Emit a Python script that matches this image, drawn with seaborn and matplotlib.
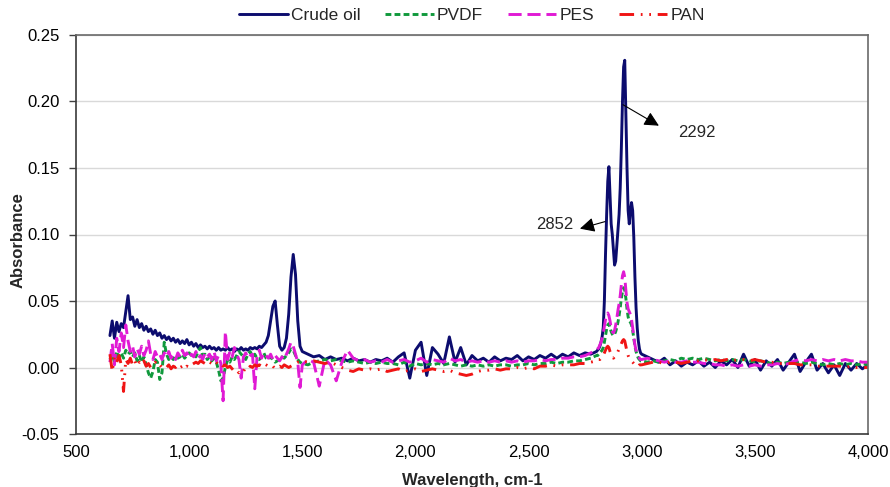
import numpy as np
import pandas as pd
import matplotlib
matplotlib.use("Agg")
import matplotlib.pyplot as plt
from matplotlib.lines import Line2D
from matplotlib.ticker import FuncFormatter, MultipleLocator
import seaborn as sns

# Wavenumber sampling: fine steps around the C-H stretch band, coarser elsewhere
wavenumber = np.concatenate([
    np.arange(650, 1501, 10),
    np.arange(1525, 2801, 25),
    np.arange(2805, 3001, 5),
    np.arange(3025, 4001, 25),
])

samples = ["Crude oil", "PVDF", "PES", "PAN"]

crude_oil = [
    # 650 - 1500
    0.024, 0.035, 0.022, 0.034, 0.027, 0.033, 0.030, 0.042, 0.054, 0.036,
    0.038, 0.031, 0.036, 0.030, 0.033, 0.028, 0.031, 0.027, 0.029, 0.025,
    0.028, 0.024, 0.026, 0.022, 0.024, 0.021, 0.023, 0.020, 0.022, 0.019,
    0.021, 0.018, 0.020, 0.018, 0.021, 0.017, 0.019, 0.016, 0.018, 0.015,
    0.017, 0.015, 0.016, 0.014, 0.016, 0.014, 0.015, 0.013, 0.015, 0.013,
    0.014, 0.013, 0.015, 0.013, 0.014, 0.012, 0.014, 0.013, 0.015, 0.013,
    0.014, 0.013, 0.015, 0.014, 0.015, 0.014, 0.016, 0.015, 0.017, 0.019,
    0.024, 0.035, 0.046, 0.050, 0.032, 0.016, 0.013, 0.015, 0.022, 0.040,
    0.068, 0.085, 0.070, 0.035, 0.016, 0.012,
    # 1525 - 2800
    0.010, 0.008, 0.009, 0.006, 0.008, 0.006, 0.007, 0.005, 0.007, 0.005,
    0.006, 0.004, 0.006, 0.005, 0.007, 0.004, 0.008, 0.011, -0.008, 0.013,
    0.019, -0.006, 0.015, 0.010, 0.003, 0.023, 0.004, 0.015, 0.002, 0.009,
    0.005, 0.007, 0.004, 0.008, 0.005, 0.007, 0.006, 0.009, 0.005, 0.008,
    0.006, 0.009, 0.007, 0.010, 0.007, 0.010, 0.008, 0.011, 0.009, 0.011,
    0.010, 0.012,
    # 2805 - 3000
    0.013, 0.014, 0.016, 0.019, 0.023, 0.030, 0.050, 0.085, 0.115, 0.140,
    0.151, 0.130, 0.108, 0.100, 0.088, 0.077, 0.080, 0.092, 0.104, 0.115,
    0.135, 0.165, 0.200, 0.226, 0.231, 0.190, 0.150, 0.118, 0.108, 0.118,
    0.124, 0.118, 0.098, 0.068, 0.045, 0.030, 0.020, 0.014, 0.011, 0.010,
    # 3025 - 4000
    0.008, 0.006, 0.004, 0.007, 0.002, 0.005, 0.001, 0.004, 0.002, 0.005,
    0.001, 0.004, 0.000, 0.005, 0.002, 0.006, 0.000, 0.010, 0.001, 0.006,
    -0.002, 0.005, 0.001, 0.006, -0.002, 0.004, 0.010, -0.003, 0.004, 0.010,
    -0.002, 0.003, -0.004, 0.002, -0.006, 0.003, -0.002, 0.003, -0.001, 0.002,
]

pvdf = [
    # 650 - 1500
    0.006, 0.010, 0.004, 0.012, 0.008, 0.011, 0.007, 0.013, 0.010, 0.012,
    0.008, 0.011, 0.005, 0.009, 0.004, 0.008, 0.002, -0.004, -0.008, -0.003,
    0.006, 0.004, -0.009, -0.004, 0.019, 0.010, 0.006, 0.008, 0.006, 0.009,
    0.007, 0.008, 0.010, 0.007, 0.009, 0.011, 0.009, 0.010, 0.008, 0.012,
    0.015, 0.009, 0.010, 0.006, 0.008, 0.005, 0.007, 0.004, -0.002, -0.010,
    -0.008, 0.000, 0.006, 0.004, 0.008, 0.006, 0.009, 0.012, 0.010, 0.008,
    0.006, 0.010, 0.012, 0.008, 0.010, 0.007, 0.006, 0.008, 0.011, 0.007,
    0.006, 0.008, 0.006, 0.004, 0.005, 0.006, 0.008, 0.007, 0.009, 0.011,
    0.014, 0.013, 0.009, 0.006, 0.004, 0.003,
    # 1525 - 2800
    0.002, 0.004, 0.005, 0.006, 0.005, 0.006, 0.005, 0.004, 0.005, 0.004,
    0.003, 0.004, 0.003, 0.004, 0.003, 0.003, 0.002, 0.004, 0.001, 0.003,
    0.002, 0.003, 0.002, 0.003, 0.002, 0.003, 0.002, 0.001, 0.002, 0.001,
    0.002, 0.001, 0.002, 0.001, 0.002, 0.002, 0.001, 0.002, 0.002, 0.003,
    0.002, 0.003, 0.003, 0.004, 0.003, 0.004, 0.004, 0.005, 0.005, 0.006,
    0.007, 0.009,
    # 2805 - 3000
    0.009, 0.010, 0.011, 0.012, 0.013, 0.015, 0.019, 0.024, 0.029, 0.032,
    0.033, 0.030, 0.027, 0.025, 0.024, 0.025, 0.027, 0.030, 0.034, 0.039,
    0.045, 0.052, 0.057, 0.060, 0.058, 0.052, 0.044, 0.038, 0.035, 0.034,
    0.032, 0.028, 0.022, 0.016, 0.012, 0.009, 0.007, 0.006, 0.005, 0.005,
    # 3025 - 4000
    0.004, 0.005, 0.004, 0.005, 0.006, 0.005, 0.007, 0.006, 0.007, 0.006,
    0.007, 0.006, 0.005, 0.006, 0.005, 0.006, 0.005, 0.006, 0.005, 0.004,
    0.005, 0.004, 0.003, 0.004, 0.003, 0.004, 0.003, 0.004, 0.003, 0.004,
    0.003, 0.002, 0.003, 0.002, 0.003, 0.002, 0.003, 0.002, 0.003, 0.002,
]

pes = [
    # 650 - 1500
    0.004, 0.018, 0.002, 0.022, 0.012, 0.026, 0.015, 0.032, 0.020, 0.012,
    0.016, 0.008, 0.014, 0.010, 0.016, 0.009, 0.013, 0.020, 0.010, 0.006,
    0.012, 0.008, 0.010, 0.006, 0.011, 0.008, 0.012, 0.007, 0.010, 0.006,
    0.011, 0.008, 0.013, 0.009, 0.011, 0.007, 0.010, 0.008, 0.012, 0.007,
    0.009, 0.006, 0.011, 0.008, 0.010, 0.006, 0.012, 0.005, 0.009, 0.003,
    -0.025, 0.027, 0.006, 0.012, 0.008, 0.015, 0.010, 0.006, -0.008, 0.008,
    0.011, 0.007, 0.009, 0.010, -0.016, 0.008, 0.013, 0.007, 0.011, 0.009,
    0.007, 0.010, 0.006, 0.009, 0.007, 0.005, 0.008, 0.006, 0.010, 0.014,
    0.019, 0.016, 0.010, 0.004, -0.015, 0.002,
    # 1525 - 2800
    0.006, 0.004, -0.014, 0.006, 0.002, -0.010, 0.004, 0.013, 0.007, 0.005,
    0.006, 0.004, 0.005, 0.004, 0.006, 0.004, 0.005, 0.006, 0.004, 0.005,
    0.007, 0.004, 0.006, 0.005, 0.004, 0.007, 0.005, 0.006, 0.004, 0.005,
    0.004, 0.005, 0.004, 0.005, 0.004, 0.005, 0.004, 0.005, 0.004, 0.005,
    0.005, 0.006, 0.005, 0.006, 0.006, 0.007, 0.007, 0.008, 0.008, 0.009,
    0.011, 0.013,
    # 2805 - 3000
    0.014, 0.015, 0.017, 0.019, 0.022, 0.026, 0.031, 0.036, 0.040, 0.041,
    0.039, 0.035, 0.030, 0.027, 0.026, 0.028, 0.032, 0.037, 0.043, 0.048,
    0.054, 0.062, 0.069, 0.072, 0.068, 0.058, 0.049, 0.044, 0.042, 0.040,
    0.036, 0.030, 0.023, 0.017, 0.013, 0.010, 0.008, 0.007, 0.006, 0.006,
    # 3025 - 4000
    0.007, 0.006, 0.005, 0.004, 0.005, 0.004, 0.004, 0.005, 0.004, 0.004,
    0.003, 0.003, 0.002, 0.002, 0.001, 0.002, 0.001, 0.002, 0.001, 0.002,
    0.001, 0.002, 0.002, 0.003, 0.002, 0.003, 0.005, 0.006, 0.005, 0.006,
    0.005, 0.006, 0.005, 0.006, 0.005, 0.006, 0.005, 0.005, 0.004, 0.004,
]

pan = [
    # 650 - 1500
    0.010, -0.003, 0.008, 0.004, 0.009, 0.002, -0.018, 0.006, 0.003, 0.007,
    0.002, 0.005, 0.001, 0.004, 0.002, 0.005, 0.001, 0.003, 0.000, 0.002,
    0.004, 0.001, 0.002, 0.000, 0.001, 0.000, 0.002, -0.001, 0.001, 0.000,
    0.002, 0.000, 0.001, -0.001, 0.001, 0.000, 0.002, 0.003, 0.004, 0.003,
    0.005, 0.004, 0.003, 0.005, 0.004, 0.003, 0.005, 0.004, 0.002, 0.003,
    0.001, 0.002, 0.000, 0.001, -0.001, -0.003, -0.002, -0.004, -0.002, -0.003,
    0.000, -0.001, 0.001, 0.000, 0.002, 0.001, 0.002, 0.001, 0.003, 0.002,
    0.001, 0.000, 0.001, -0.001, 0.000, 0.001, 0.000, 0.002, 0.001, 0.000,
    0.001, 0.002, 0.003, 0.004, 0.004, 0.005,
    # 1525 - 2800
    0.004, 0.005, 0.004, 0.003, 0.004, 0.002, 0.000, -0.002, -0.003, -0.001,
    -0.002, -0.001, -0.002, -0.001, -0.003, -0.002, -0.001, -0.003, -0.002, -0.001,
    -0.003, -0.002, -0.001, -0.002, -0.003, -0.002, -0.004, -0.005, -0.006, -0.005,
    -0.003, -0.002, -0.002, -0.001, -0.002, -0.001, -0.001, 0.000, -0.001, 0.000,
    -0.001, 0.001, 0.001, 0.002, 0.001, 0.002, 0.002, 0.002, 0.003, 0.003,
    0.004, 0.005,
    # 2805 - 3000
    0.005, 0.006, 0.006, 0.007, 0.008, 0.009, 0.011, 0.013, 0.015, 0.016,
    0.015, 0.012, 0.010, 0.008, 0.007, 0.008, 0.009, 0.010, 0.012, 0.014,
    0.016, 0.018, 0.020, 0.021, 0.020, 0.016, 0.012, 0.009, 0.007, 0.006,
    0.005, 0.004, 0.003, 0.002, 0.001, 0.001, 0.001, 0.002, 0.002, 0.002,
    # 3025 - 4000
    0.003, 0.004, 0.004, 0.003, 0.004, 0.004, 0.003, 0.004, 0.005, 0.005,
    0.006, 0.005, 0.006, 0.005, 0.006, 0.005, 0.006, 0.006, 0.005, 0.006,
    0.005, 0.004, 0.004, 0.003, 0.003, 0.003, 0.003, 0.002, 0.002, 0.002,
    0.001, 0.001, 0.001, 0.001, 0.001, 0.000, 0.001, 0.000, 0.000, 0.000,
]

colors = {"Crude oil": "#0c0c6e", "PVDF": "#10993c", "PES": "#e01ad4", "PAN": "#f01414"}
dash_styles = {
    "Crude oil": "",
    "PVDF": (2.0, 1.1),
    "PES": (4.5, 2.0),
    "PAN": (5.0, 2.3, 0.6, 2.3, 0.6, 2.3),
}

# Peak annotations: (label, arrow tail, arrow head, label position)
peak_notes = [
    ("2292", (2917, 0.1976), (3076, 0.1818), (3244, 0.1766)),
    ("2852", (2838, 0.1097), (2727, 0.1044), (2617, 0.1074)),
]

df = pd.concat(
    [pd.DataFrame({"wavenumber": wavenumber, "absorbance": vals, "sample": name})
     for name, vals in zip(samples, [crude_oil, pvdf, pes, pan])],
    ignore_index=True,
)

sns.set_theme(style="white")
plt.rcParams["font.family"] = ["Liberation Sans", "DejaVu Sans"]

fig = plt.figure(figsize=(8.9, 4.87), dpi=100)
ax = fig.add_axes([76 / 890, 1 - 434 / 487, (868 - 76) / 890, (434 - 35) / 487])

sns.lineplot(
    data=df, x="wavenumber", y="absorbance",
    hue="sample", style="sample", hue_order=samples, style_order=samples,
    palette=colors, dashes=dash_styles, estimator=None, sort=False,
    linewidth=2.1, legend=False, ax=ax,
)

ax.set_xlim(500, 4000)
ax.set_ylim(-0.05, 0.25)
ax.xaxis.set_major_locator(MultipleLocator(500))
ax.yaxis.set_major_locator(MultipleLocator(0.05))
ax.xaxis.set_major_formatter(FuncFormatter(lambda v, _: f"{v:,.0f}"))
ax.yaxis.set_major_formatter(FuncFormatter(lambda v, _: f"{v:.2f}"))

ax.set_axisbelow(True)
ax.yaxis.grid(True, color="#d9d9d9", linewidth=1.0)
ax.xaxis.grid(False)

ax.tick_params(axis="y", left=True, direction="out", length=5, width=1,
               color="#404040", pad=7, labelsize=12, labelcolor="black")
ax.tick_params(axis="x", bottom=False, length=0, pad=8, labelsize=12,
               labelcolor="black")

for name, spine in ax.spines.items():
    spine.set_color("#3a3a3a" if name in ("left", "bottom") else "#6a6a6a")
    spine.set_linewidth(1.2)

ax.set_ylabel("Absorbance", fontsize=12, fontweight="bold")
ax.yaxis.set_label_coords(-0.064, 0.486)
ax.set_xlabel("Wavelength, cm-1", fontsize=12, fontweight="bold", labelpad=9)

for label, tail, head, pos in peak_notes:
    ax.annotate("", xy=head, xytext=tail,
                arrowprops=dict(arrowstyle="-|>", color="black", lw=0.8,
                                mutation_scale=22, shrinkA=0, shrinkB=0))
    ax.text(pos[0], pos[1], label, ha="center", va="center", fontsize=12)

handles = []
for s in samples:
    ls = "-" if dash_styles[s] == "" else (0, dash_styles[s])
    handles.append(Line2D([], [], color=colors[s], linewidth=2.1, linestyle=ls))
ax.legend(handles, samples, loc="lower center", bbox_to_anchor=(0.5, 1.0),
          ncol=4, frameon=False, fontsize=12.5, handlelength=2.8,
          handletextpad=0.2, columnspacing=1.4, borderaxespad=0.3)

fig.savefig("out.png", dpi=100)
